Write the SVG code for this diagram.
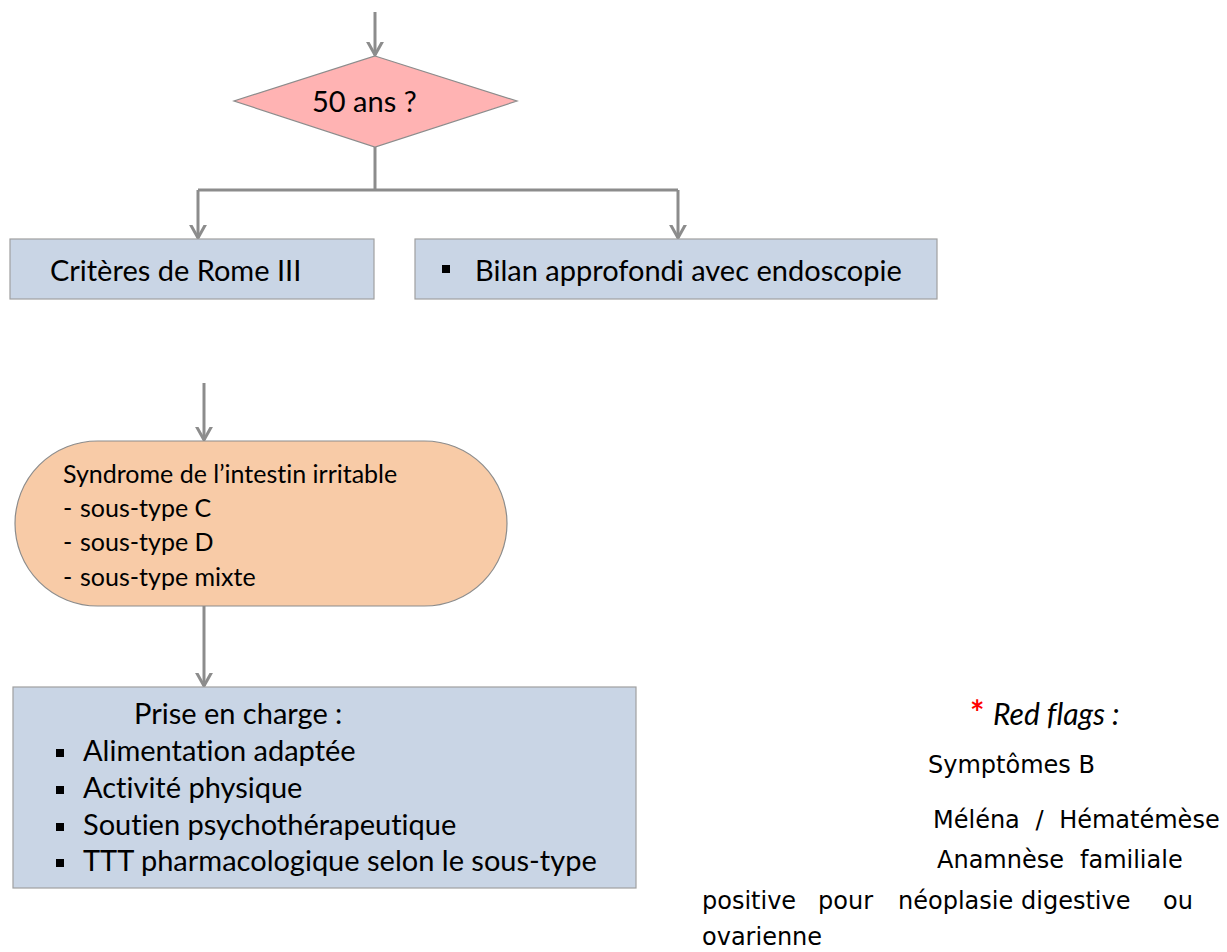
<svg xmlns="http://www.w3.org/2000/svg" width="1227" height="952" viewBox="0 0 1227 952">
<style>
.conn{fill:none;stroke:#8C8C8C;stroke-width:3}
.box{fill:#C9D5E5;stroke:#A0A0A0;stroke-width:1.2}
.t{font-family:"Lato","Open Sans","Liberation Sans",sans-serif;fill:#000;font-variant-ligatures:none;font-feature-settings:"liga" 0,"clig" 0,"dlig" 0,"calt" 0}
.big{font-size:29px}
.mid{font-size:25px}
.r{font-family:"DejaVu Sans","Liberation Sans",sans-serif;fill:#000;font-size:24px}
.blt{fill:#000}
</style>
<defs>
<marker id="ah" markerUnits="userSpaceOnUse" markerWidth="26" markerHeight="26" viewBox="-13 -13 26 26" refX="0" refY="0" orient="auto">
<path d="M-18,-10 L0,0 L-18,10" fill="none" stroke="#8C8C8C" stroke-width="3"/>
</marker>
</defs>
<rect width="1227" height="952" fill="#fff"/>
<g id="connectors">
<path class="conn" d="M375,12 V55" marker-end="url(#ah)"/>
<path class="conn" d="M375,147 V190"/>
<path class="conn" d="M198,190 H678"/>
<path class="conn" d="M198,190 V238" marker-end="url(#ah)"/>
<path class="conn" d="M678,190 V238" marker-end="url(#ah)"/>
<path class="conn" d="M204,383 V440" marker-end="url(#ah)"/>
<path class="conn" d="M204,606 V686" marker-end="url(#ah)"/>
</g>
<g id="decision">
<polygon points="375,56 517,101 375,147 234,101" fill="#FFB3B3" stroke="#8C8C8C" stroke-width="1.2"/>
<text class="t big" x="312" y="112">50 ans ?</text>
</g>
<g id="rome">
<rect class="box" x="10" y="239" width="364" height="60"/>
<text class="t big" x="50" y="281">Critères de Rome III</text>
</g>
<g id="bilan">
<rect class="box" x="415" y="239" width="522" height="60"/>
<rect class="blt" x="442" y="265" width="8" height="8"/>
<text class="t big" x="475" y="281">Bilan approfondi avec endoscopie</text>
</g>
<g id="sii">
<rect x="15" y="441" width="492" height="165" rx="82.5" ry="82.5" fill="#F8CBA7" stroke="#8C8C8C" stroke-width="1.2"/>
<text class="t mid" x="63" y="483">Syndrome de l’intestin irritable</text>
<text class="t mid" y="517"><tspan x="63">-</tspan><tspan x="80">sous-type C</tspan></text>
<text class="t mid" y="551"><tspan x="63">-</tspan><tspan x="80">sous-type D</tspan></text>
<text class="t mid" y="586"><tspan x="63">-</tspan><tspan x="80">sous-type mixte</tspan></text>
</g>
<g id="prise">
<rect class="box" x="13" y="687" width="623" height="201"/>
<text class="t big" x="134" y="724">Prise en charge :</text>
<rect class="blt" x="56" y="749" width="8" height="8"/>
<text class="t big" x="83" y="761">Alimentation adaptée</text>
<rect class="blt" x="56" y="786" width="8" height="8"/>
<text class="t big" x="83" y="798">Activité physique</text>
<rect class="blt" x="56" y="823" width="8" height="8"/>
<text class="t big" x="83" y="835">Soutien psychothérapeutique</text>
<rect class="blt" x="56" y="859" width="8" height="8"/>
<text class="t big" x="83" y="871">TTT pharmacologique selon le sous-type</text>
</g>
<g id="redflags">
<text class="t" y="725"><tspan x="970" fill="#FF0000" font-weight="bold" font-size="34">*</tspan><tspan x="993" font-style="italic" font-size="30">Red flags :</tspan></text>
<text class="r" x="928" y="773">Symptômes B</text>
<text class="r" x="933" y="828" word-spacing="8">Méléna / Hématémèse</text>
<text class="r" y="868"><tspan x="937">Anamnèse</tspan><tspan x="1080">familiale</tspan></text>
<text class="r" y="909"><tspan x="702">positive</tspan><tspan x="818">pour</tspan><tspan x="898">néoplasie</tspan><tspan x="1021">digestive</tspan><tspan x="1163">ou</tspan></text>
<text class="r" x="702" y="945">ovarienne</text>
</g>
</svg>
